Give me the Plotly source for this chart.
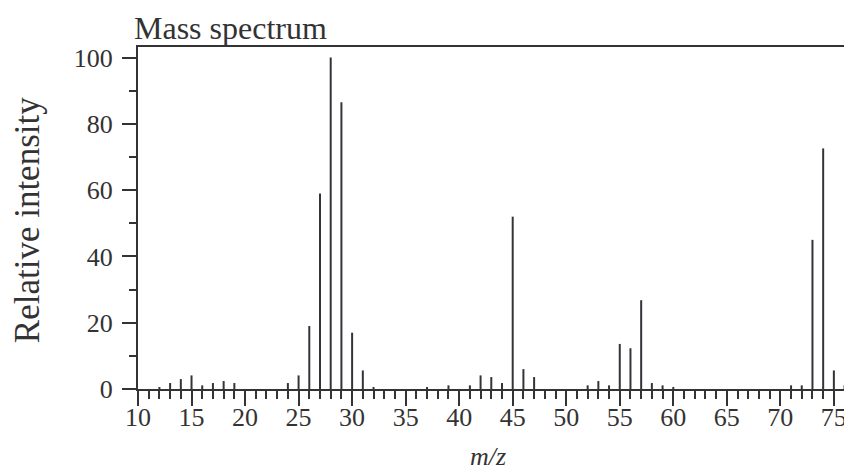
import plotly.graph_objects as go

# m/z values and relative intensities
mz = [12, 13, 14, 15, 16, 17, 18, 19, 24, 25, 26, 27, 28, 29, 30, 31, 32,
      37, 39, 41, 42, 43, 44, 45, 46, 47, 52, 53, 54, 55, 56, 57, 58, 59, 60,
      71, 72, 73, 74, 75, 76]
intensity = [0.6, 1.8, 3.0, 4.1, 1.1, 1.8, 2.4, 1.8, 1.8, 4.1, 19, 59, 100, 86.5, 17, 5.6, 0.6,
             0.6, 1.1, 1.1, 4.1, 3.6, 1.8, 52, 6, 3.6, 1.1, 2.4, 1.1, 13.6, 12.3, 26.8, 1.8, 1.1, 0.6,
             1.1, 1.1, 45, 72.6, 5.6, 1.1]
x_ticks = [10, 15, 20, 25, 30, 35, 40, 45, 50, 55, 60, 65, 70, 75]
y_ticks = [0, 20, 40, 60, 80, 100]

# build stick spectrum segments
xs, ys = [], []
for m, v in zip(mz, intensity):
    xs += [m, m, None]
    ys += [0, v, None]

INK = "#333333"
FONT = "Liberation Serif"

fig = go.Figure()
fig.add_trace(go.Scatter(x=xs, y=ys, mode="lines",
                         line=dict(color="#35333a", width=2),
                         hoverinfo="skip", showlegend=False))

# the page body has an 8px margin, so the figure is sized to fit the window
fig.update_layout(
    width=844, height=464,
    margin=dict(l=130, r=1, t=39, b=83),
    paper_bgcolor="white", plot_bgcolor="white",
    font=dict(family=FONT, color=INK, size=26),
    showlegend=False,
)
fig.update_xaxes(
    range=[10, 76.6], tickvals=x_ticks, ticks="outside", ticklen=15, tickwidth=2,
    tickcolor=INK, showline=True, linecolor=INK, linewidth=2, mirror=True,
    showgrid=False, zeroline=False, automargin=False,
    minor=dict(dtick=1, tick0=10, ticks="outside", ticklen=8, tickwidth=2, tickcolor=INK, showgrid=False),
    tickfont=dict(family=FONT, size=26, color=INK),
    ticklabelstandoff=-11,
)
fig.update_yaxes(
    range=[0, 103.2], tickvals=y_ticks, ticks="outside", ticklen=14, tickwidth=2,
    tickcolor=INK, showline=True, linecolor=INK, linewidth=2, mirror=True,
    showgrid=False, zeroline=False, automargin=False,
    minor=dict(dtick=10, tick0=0, ticks="outside", ticklen=7, tickwidth=2, tickcolor=INK, showgrid=False),
    tickfont=dict(family=FONT, size=26, color=INK),
    ticklabelstandoff=4,
)
# axis titles and chart title
fig.add_annotation(text="Relative intensity", xref="paper", yref="paper",
                   x=-0.155, y=0.495, xanchor="center", yanchor="middle", textangle=-90,
                   showarrow=False, font=dict(family=FONT, size=35, color=INK))
fig.add_annotation(text="<i>m/z</i>", xref="paper", yref="paper",
                   x=0.491, y=-0.198, xanchor="center", yanchor="middle",
                   showarrow=False, font=dict(family=FONT, size=26, color=INK))
fig.add_annotation(text="Mass spectrum", xref="paper", yref="paper", x=-0.009, y=1.055,
                   xanchor="left", yanchor="middle", showarrow=False,
                   font=dict(family=FONT, size=32, color=INK))

fig.write_html("out.html")
